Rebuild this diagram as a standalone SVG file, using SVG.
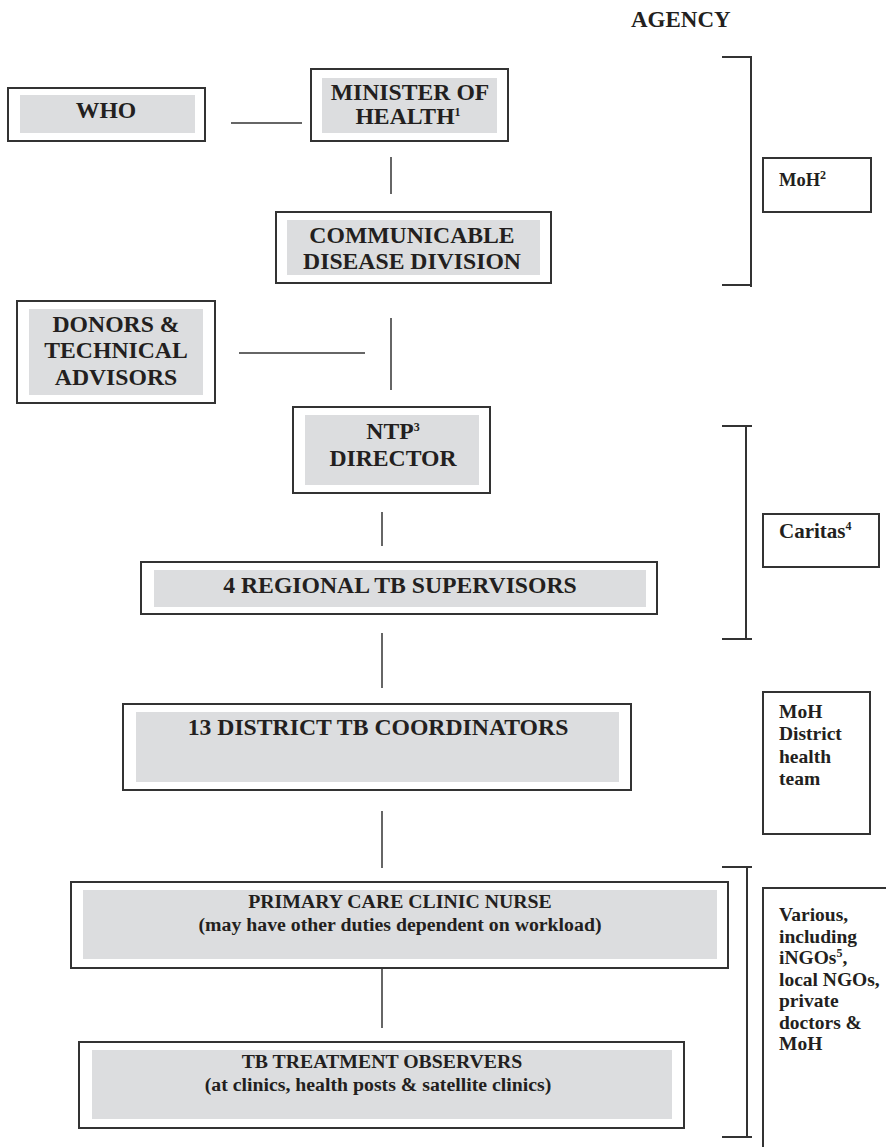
<svg xmlns="http://www.w3.org/2000/svg" width="886" height="1147" viewBox="0 0 886 1147">
<style>
.box{fill:#fff;stroke:#333;stroke-width:2}
.inner{fill:#dcdddf}
.t{font-family:"Liberation Serif","Times New Roman",serif;font-weight:bold;fill:#231f20;text-anchor:middle;font-size:23.7px}
.s{font-size:19.8px}
.side{font-family:"Liberation Serif","Times New Roman",serif;font-weight:bold;fill:#231f20;font-size:19.5px}
.sup{font-size:12px}
.ln{stroke:#333;stroke-width:1.5;fill:none}
.br{stroke:#333;stroke-width:2;fill:none}
</style>
<rect width="886" height="1147" fill="#fff"/>
<g id="connectors">
<line class="ln" x1="231" y1="123" x2="302" y2="123"/>
<line class="ln" x1="391" y1="157" x2="391" y2="194"/>
<line class="ln" x1="239" y1="353" x2="365" y2="353"/>
<line class="ln" x1="391" y1="318" x2="391" y2="390"/>
<line class="ln" x1="382" y1="512" x2="382" y2="546"/>
<line class="ln" x1="382" y1="633" x2="382" y2="688"/>
<line class="ln" x1="382" y1="811" x2="382" y2="868"/>
<line class="ln" x1="382" y1="968" x2="382" y2="1028"/>
</g>
<g id="who">
<rect class="box" x="8" y="88" width="197" height="53"/>
<rect class="inner" x="20" y="95" width="175" height="38"/>
<text class="t" x="106" y="118">WHO</text>
</g>
<g id="minister">
<rect class="box" x="311" y="69" width="197" height="72"/>
<rect class="inner" x="322" y="78" width="175" height="55"/>
<text class="t" x="410" y="100">MINISTER OF</text>
<text class="t" x="408" y="124">HEALTH<tspan class="sup" dy="-8">1</tspan></text>
</g>
<g id="cdd">
<rect class="box" x="276" y="212" width="275" height="71"/>
<rect class="inner" x="287" y="220" width="253" height="55"/>
<text class="t" x="412" y="243">COMMUNICABLE</text>
<text class="t" x="412" y="269">DISEASE DIVISION</text>
</g>
<g id="donors">
<rect class="box" x="17" y="301" width="198" height="102"/>
<rect class="inner" x="29" y="309" width="174" height="86"/>
<text class="t" x="116" y="332">DONORS &amp;</text>
<text class="t" x="116" y="358">TECHNICAL</text>
<text class="t" x="116" y="385">ADVISORS</text>
</g>
<g id="ntp">
<rect class="box" x="293" y="407" width="197" height="86"/>
<rect class="inner" x="305" y="415" width="174" height="70"/>
<text class="t" x="393" y="439">NTP<tspan class="sup" dy="-8">3</tspan></text>
<text class="t" x="393" y="466">DIRECTOR</text>
</g>
<g id="regional">
<rect class="box" x="141" y="562" width="516" height="52"/>
<rect class="inner" x="154" y="570" width="492" height="37"/>
<text class="t" x="400" y="593">4 REGIONAL TB SUPERVISORS</text>
</g>
<g id="district">
<rect class="box" x="123" y="704" width="508" height="86"/>
<rect class="inner" x="136" y="712" width="483" height="70"/>
<text class="t" x="378" y="735">13 DISTRICT TB COORDINATORS</text>
</g>
<g id="primary">
<rect class="box" x="71" y="882" width="657" height="86"/>
<rect class="inner" x="83" y="890" width="634" height="69"/>
<text class="t s" x="400" y="908">PRIMARY CARE CLINIC NURSE</text>
<text class="t s" x="400" y="931">(may have other duties dependent on workload)</text>
</g>
<g id="observers">
<rect class="box" x="79" y="1042" width="605" height="86"/>
<rect class="inner" x="92" y="1050" width="580" height="69"/>
<text class="t s" x="382" y="1068">TB TREATMENT OBSERVERS</text>
<text class="t s" x="378" y="1091">(at clinics, health posts &amp; satellite clinics)</text>
</g>
<g id="agency-header">
<text class="side" x="631" y="27" style="font-size:23px">AGENCY</text>
</g>
<g id="agency-moh">
<path class="br" d="M722,57 H751 V287 M722,285 H751"/>
<rect class="box" x="763" y="158" width="108" height="54"/>
<text class="side" x="779" y="186" style="font-size:18.5px">MoH<tspan class="sup" dy="-7">2</tspan></text>
</g>
<g id="agency-caritas">
<path class="br" d="M722,426 H752 M746,425 V639 M722,639 H752"/>
<rect class="box" x="763" y="514" width="116" height="53"/>
<text class="side" x="779" y="538" style="font-size:21px">Caritas<tspan class="sup" dy="-8">4</tspan></text>
</g>
<g id="agency-district">
<rect class="box" x="763" y="692" width="107" height="142"/>
<text class="side" x="779" y="718">MoH</text>
<text class="side" x="779" y="740">District</text>
<text class="side" x="779" y="763">health</text>
<text class="side" x="779" y="785">team</text>
</g>
<g id="agency-various">
<path class="br" d="M722,867 H752 M747,866 V1138 M722,1137 H752"/>
<path class="br" d="M763,1150 V888 H890"/>
<text class="side" x="779" y="921">Various,</text>
<text class="side" x="779" y="943">including</text>
<text class="side" x="779" y="964">iNGOs<tspan class="sup" dy="-7">5</tspan><tspan dy="7">,</tspan></text>
<text class="side" x="779" y="986">local NGOs,</text>
<text class="side" x="779" y="1007">private</text>
<text class="side" x="779" y="1029">doctors &amp;</text>
<text class="side" x="779" y="1050">MoH</text>
</g>
</svg>
